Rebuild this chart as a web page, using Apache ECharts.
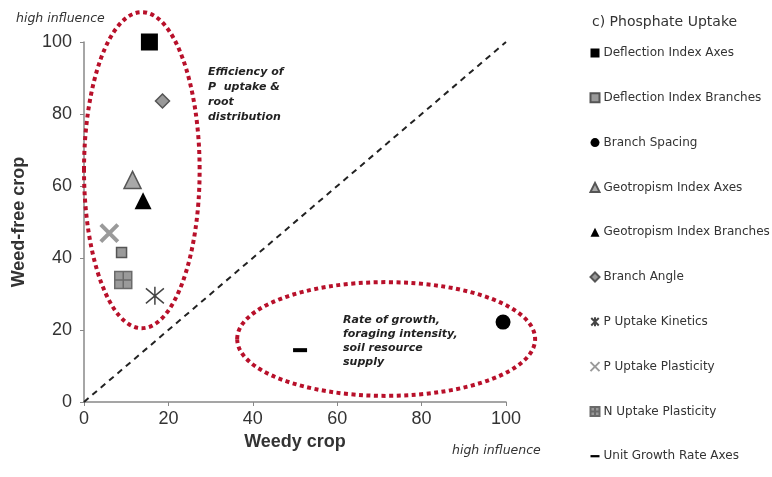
<!DOCTYPE html>
<html><head><meta charset="utf-8">
<script src="https://cdn.jsdelivr.net/npm/echarts@6/dist/echarts.min.js"></script>
<style>html,body{margin:0;padding:0;background:#fff}#c{width:772px;height:477px}</style>
</head><body><div id="c"></div>
<script>
// ---- data ----
const seriesNames = ['Deflection Index Axes','Deflection Index Branches','Branch Spacing','Geotropism Index Axes','Geotropism Index Branches','Branch Angle','P Uptake Kinetics','P Uptake Plasticity','N Uptake Plasticity','Unit Growth Rate Axes'];
const weedyValues    = [15.5, 8.9, 99.3, 11.5, 14.0, 18.6, 16.8, 6.0, 9.3, 51.2];
const weedFreeValues = [100, 41.5, 22.2, 61.7, 55.9, 83.6, 29.5, 46.9, 33.9, 14.4];
const xTicks = [0, 20, 40, 60, 80, 100];
const yTicks = [0, 20, 40, 60, 80, 100];
const diagonal = [[0, 0], [100, 100]];
// annotation ellipses in data units: [cx, cy, rx, ry]
const groupEllipses = [[13.7, 64.4, 13.7, 43.9], [71.6, 17.5, 35.3, 15.8]];

// ---- styles ----
const asterisk = 'path://M0,0L10,10M10,0L0,10M5,-1L5,11';
const crossX = 'path://M0,0L10,10M10,0L0,10';
const sqPlus = 'path://M0,0H10V10H0Z M5,0V10 M0,5H10';
const styles = [
  {symbol:'rect', size:17, item:{color:'#000'}},
  {symbol:'rect', size:10, item:{color:'#9a9a9a', borderColor:'#555', borderWidth:1.5}},
  {symbol:'circle', size:15, item:{color:'#000'}},
  {symbol:'triangle', size:17, item:{color:'#a8a8a8', borderColor:'#555', borderWidth:1.5}},
  {symbol:'triangle', size:17, item:{color:'#000'}},
  {symbol:'diamond', size:14, item:{color:'#999', borderColor:'#555', borderWidth:1.5}},
  {symbol:asterisk, size:18, item:{color:'none', borderColor:'#444', borderWidth:1.5}},
  {symbol:crossX, size:17, item:{color:'none', borderColor:'#9a9a9a', borderWidth:4}},
  {symbol:sqPlus, size:17, item:{color:'#9a9a9a', borderColor:'#6a6a6a', borderWidth:1.5}},
  {symbol:'rect', size:[14,4], item:{color:'#000'}}
];
const legendIcons = [null,null,null,null,null,null,null,null,null,'path://M0,0H10V2.5H0Z'];

const chart = echarts.init(document.getElementById('c'), null, {renderer:'canvas'});
const scatterSeries = seriesNames.map((n, i) => ({
  name: n, type: 'scatter', data: [[weedyValues[i], weedFreeValues[i]]],
  symbol: styles[i].symbol, symbolSize: styles[i].size,
  itemStyle: Object.assign({opacity: 1}, styles[i].item),
  z: 5
}));
const font = 'Liberation Sans, Arial, sans-serif';
chart.setOption({
  animation: false,
  title: {text: 'c) Phosphate Uptake', left: 587, top: 10,
    textStyle: {fontFamily: 'DejaVu Sans', fontSize: 14, fontWeight: 'normal', color: '#333'}},
  legend: {
    orient: 'vertical', left: 583, top: 41, itemGap: 30.8, itemWidth: 9, itemHeight: 9,
    textStyle: {fontFamily: 'DejaVu Sans', fontSize: 12, lineHeight: 14, color: '#333', padding: [0,0,0,-1]},
    data: seriesNames.map((n, i) => legendIcons[i] ? {name: n, icon: legendIcons[i]} : {name: n})
  },
  grid: {left: 84, right: 266, top: 42, bottom: 75, containLabel: false},
  xAxis: {type: 'value', min: 0, max: 100, interval: 20,
    name: 'Weedy crop', nameLocation: 'middle', nameGap: 28,
    nameTextStyle: {fontFamily: font, fontSize: 18, fontWeight: 'bold', color: '#333'},
    axisLine: {lineStyle: {color: '#888', width: 1.5}},
    axisTick: {show: true, length: 4, lineStyle: {color: '#888'}},
    axisLabel: {fontFamily: font, fontSize: 18, color: '#333', margin: 8},
    splitLine: {show: false}},
  yAxis: {type: 'value', min: 0, max: 100, interval: 20,
    name: 'Weed-free crop', nameLocation: 'middle', nameGap: 56, nameRotate: 90,
    nameTextStyle: {fontFamily: font, fontSize: 18, fontWeight: 'bold', color: '#333'},
    axisLine: {show: true, lineStyle: {color: '#888', width: 1.5}},
    axisTick: {show: true, length: 4, lineStyle: {color: '#888'}},
    axisLabel: {fontFamily: font, fontSize: 18, color: '#333', margin: 12},
    splitLine: {show: false}},
  graphic: [
    {type: 'text', left: 16, top: 12, style: {text: 'high influence', font: 'italic 12.5px DejaVu Sans', fill: '#333'}},
    {type: 'text', left: 452, top: 444, style: {text: 'high influence', font: 'italic 12.5px DejaVu Sans', fill: '#333'}},
    {type: 'text', left: 208, top: 65, style: {text: 'Efficiency of\nP  uptake &\nroot\ndistribution', font: 'italic bold 11px DejaVu Sans', lineHeight: 15, fill: '#222'}},
    {type: 'text', left: 343, top: 313, style: {text: 'Rate of growth,\nforaging intensity,\nsoil resource\nsupply', font: 'italic bold 11px DejaVu Sans', lineHeight: 14, fill: '#222'}}
  ],
  series: [
    {type: 'line', data: diagonal, symbol: 'none', silent: true,
      lineStyle: {color: '#222', width: 2, type: [6, 5]}, z: 2},
    {type: 'custom', data: groupEllipses, silent: true, z: 3,
      renderItem: function (params, api) {
        const c = api.coord([api.value(0), api.value(1)]);
        const s = api.size([api.value(2), api.value(3)]);
        return {type: 'ellipse', shape: {cx: c[0], cy: c[1], rx: s[0], ry: s[1]},
          style: {fill: 'none', stroke: '#b8102a', lineWidth: 4, lineDash: [4, 3.5]}};
      }}
  ].concat(scatterSeries)
});
</script></body></html>
